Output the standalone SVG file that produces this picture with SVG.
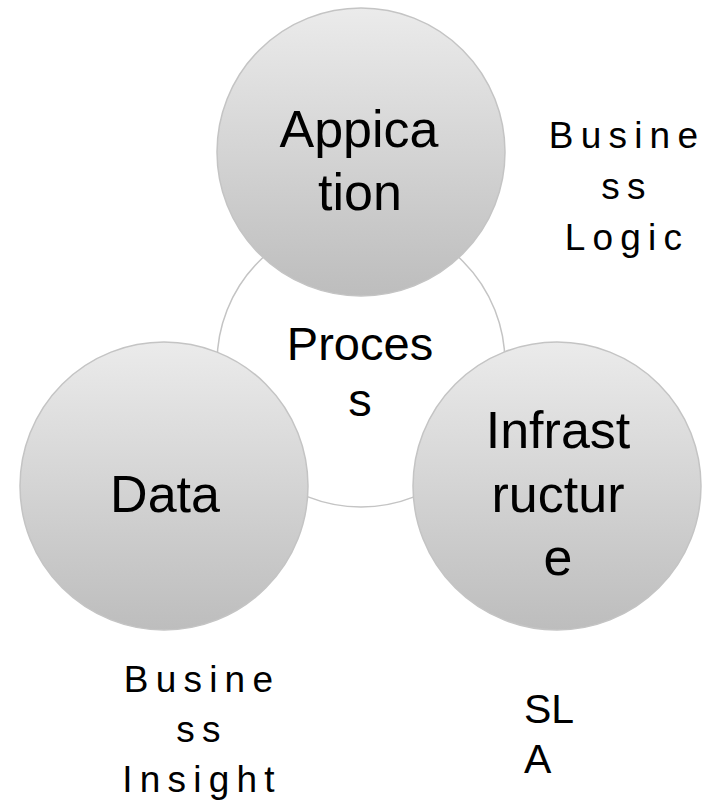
<svg xmlns="http://www.w3.org/2000/svg" width="712" height="800" viewBox="0 0 712 800">
<defs>
<linearGradient id="g" x1="0" y1="0" x2="0" y2="1">
<stop offset="0" stop-color="#ebebeb"/>
<stop offset="1" stop-color="#bdbdbd"/>
</linearGradient>
<style>
.c{fill:url(#g);stroke:#c4c4c4;stroke-width:1.5}
.p{fill:#ffffff;stroke:#c4c4c4;stroke-width:1.5}
.t{font-family:"Liberation Sans",Arial,sans-serif;fill:#000;text-anchor:middle}
.big{font-size:52px}
.mid{font-size:47px}
.lab{font-family:"Liberation Sans",Arial,sans-serif;fill:#000;font-size:37px;letter-spacing:7.2px;text-anchor:middle}
.sla{font-family:"Liberation Sans",Arial,sans-serif;fill:#000;font-size:41px}
</style>
</defs>
<rect width="712" height="800" fill="#ffffff"/>
<g id="connectors"></g>
<g id="process">
<circle class="p" cx="361" cy="363" r="144"/>
<text class="t mid" x="360" y="360">Proces</text>
<text class="t mid" x="360" y="416">s</text>
</g>
<g id="application">
<circle class="c" cx="361" cy="152" r="144"/>
<text class="t big" x="359" y="147">Appica</text>
<text class="t big" x="360" y="210">tion</text>
</g>
<g id="data">
<circle class="c" cx="164" cy="486" r="144"/>
<text class="t big" x="165" y="512">Data</text>
</g>
<g id="infrastructure">
<circle class="c" cx="557" cy="486" r="144"/>
<text class="t big" x="558" y="448">Infrast</text>
<text class="t big" x="558" y="512">ructur</text>
<text class="t big" x="558" y="575">e</text>
</g>
<g id="business-logic">
<text class="lab" x="627" y="148">Busine</text>
<text class="lab" x="627" y="199">ss</text>
<text class="lab" x="627" y="250">Logic</text>
</g>
<g id="business-insight">
<text class="lab" x="202" y="692">Busine</text>
<text class="lab" x="202" y="742">ss</text>
<text class="lab" x="202" y="792">Insight</text>
</g>
<g id="sla">
<text class="sla" x="524" y="723">SL</text>
<text class="sla" x="524" y="773">A</text>
</g>
</svg>
